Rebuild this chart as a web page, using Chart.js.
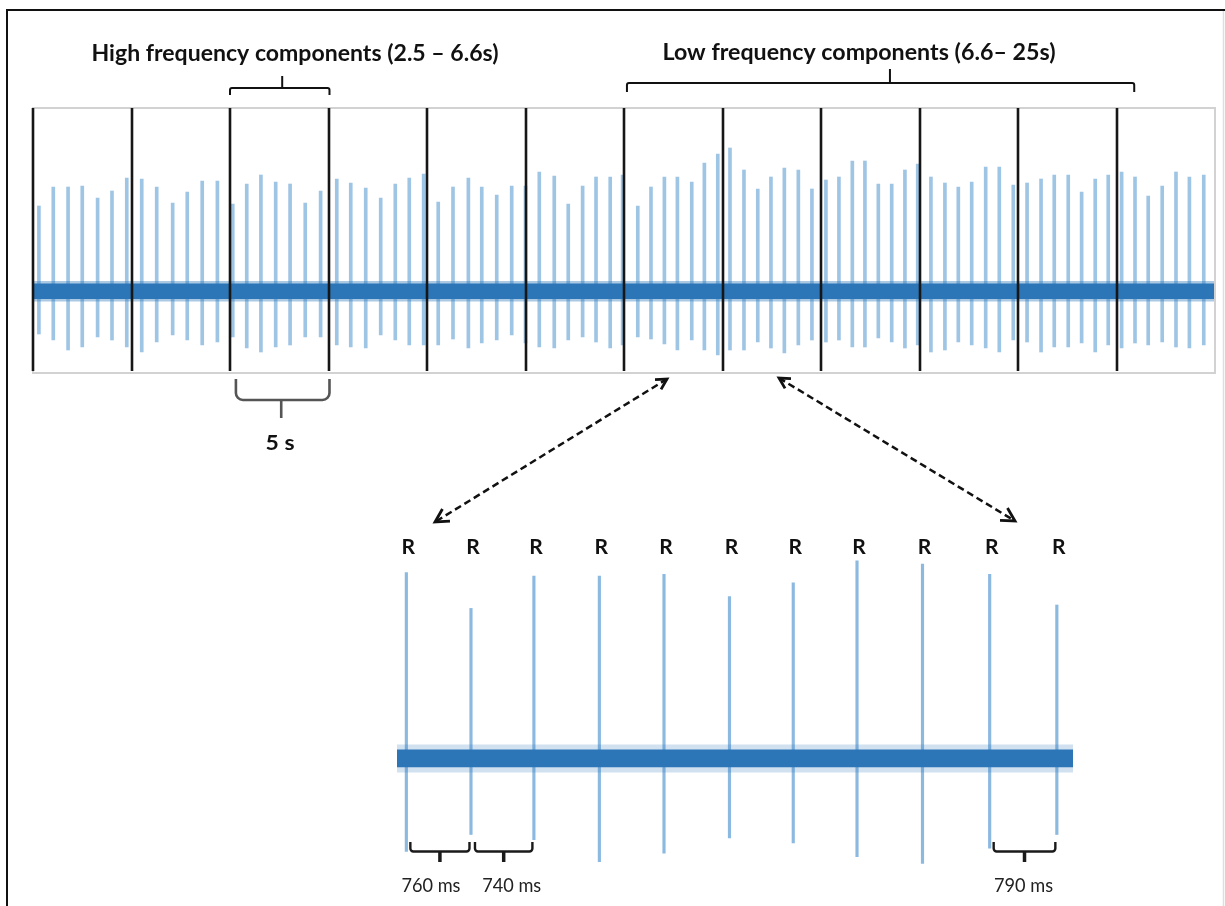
<!DOCTYPE html>
<html>
<head>
<meta charset="utf-8">
<script src="https://cdn.jsdelivr.net/npm/chart.js@4.4.1/dist/chart.umd.min.js"></script>
<style>
  html, body { margin: 0; padding: 0; background: #fff; }
  #wrap { position: relative; width: 1225px; height: 906px; overflow: hidden; background: #fff; }
  #wrap canvas { position: absolute; left: 0; top: 0; }
</style>
</head>
<body>
<div id="wrap">
  <canvas id="strip" width="1225" height="906"></canvas>
  <canvas id="zoom" width="1225" height="906"></canvas>
</div>
<script>
// ---- 60 s recording: R-peak times (s), R amplitudes and S amplitudes (mV) ----
const stripBeatTimes = [0.30,1.03,1.78,2.50,3.28,4.01,4.76,5.52,6.28,7.09,7.83,8.59,9.36,10.14,10.85,11.57,12.32,13.05,13.82,14.60,
  15.42,16.13,16.89,17.65,18.39,19.10,19.83,20.57,21.32,22.10,22.78,23.54,24.30,25.00,25.70,26.46,27.17,27.90,28.58,29.30,
  29.93,30.70,31.37,32.05,32.71,33.44,34.08,34.76,35.38,36.09,36.79,37.46,38.14,38.85,39.54,40.25,40.91,41.59,42.23,42.91,
  43.59,44.26,44.91,45.58,46.29,46.97,47.65,48.36,49.05,49.76,50.46,51.17,51.84,52.55,53.23,53.92,54.58,55.26,55.94,56.61,
  57.32,58.02,58.70,59.43];
const stripPeaks = [0.85,1.04,1.04,1.05,0.93,1.00,1.13,1.12,1.04,0.88,0.99,1.10,1.10,0.87,1.07,1.16,1.09,1.07,0.88,1.00,
  1.12,1.08,1.03,0.93,1.07,1.13,1.17,0.89,1.04,1.13,1.04,0.96,1.05,1.05,1.19,1.15,0.87,1.05,1.14,1.14,
  1.16,0.85,1.04,1.14,1.14,1.09,1.28,1.37,1.43,1.21,1.02,1.14,1.23,1.21,1.02,1.11,1.14,1.30,1.30,1.07,
  1.07,1.21,1.27,1.14,1.08,1.04,1.09,1.24,1.24,1.06,1.08,1.12,1.16,1.16,0.99,1.12,1.16,1.19,1.14,0.95,
  1.05,1.19,1.14,1.16];
const stripTroughs = [-0.43,-0.49,-0.59,-0.56,-0.46,-0.49,-0.56,-0.61,-0.51,-0.44,-0.49,-0.54,-0.51,-0.46,-0.57,-0.61,-0.56,-0.54,-0.46,-0.46,
  -0.54,-0.56,-0.57,-0.44,-0.49,-0.54,-0.54,-0.54,-0.48,-0.57,-0.52,-0.49,-0.44,-0.52,-0.56,-0.57,-0.49,-0.46,-0.51,-0.57,
  -0.54,-0.46,-0.48,-0.53,-0.59,-0.49,-0.59,-0.64,-0.59,-0.59,-0.51,-0.57,-0.62,-0.54,-0.49,-0.51,-0.49,-0.56,-0.56,-0.47,
  -0.51,-0.57,-0.54,-0.61,-0.59,-0.51,-0.54,-0.57,-0.61,-0.49,-0.51,-0.61,-0.56,-0.56,-0.52,-0.61,-0.54,-0.57,-0.52,-0.54,
  -0.51,-0.56,-0.57,-0.54];
// 5-second division marks
const segmentMarks = [0,5,10,15,20,25,30,35,40,45,50,55];
// baseline noise envelope (mV)
const stripBandTimes = [0, 60];
const stripBandCore = [0.075, -0.08];
const stripBandEdge = [0.10, -0.105];

// ---- enlarged excerpt: 11 beats ----
const zoomBeatTimes = [0.11,0.87,1.61,2.38,3.14,3.91,4.66,5.41,6.18,6.97,7.76];
const zoomPeaks = [1.09,0.88,1.07,1.07,1.08,0.95,1.03,1.16,1.14,1.08,0.90];
const zoomTroughs = [-0.55,-0.45,-0.48,-0.61,-0.56,-0.47,-0.50,-0.58,-0.62,-0.53,-0.45];
const zoomBandTimes = [0, 7.95];
const zoomBandCore = [0.05, -0.055];
const zoomBandEdge = [0.08, -0.085];
const rrStartBeats = [0, 1, 9];
const rrLabels = ['760 ms', '740 ms', '790 ms'];

// ---- helpers ----
const FONT = 'Lato, "Open Sans", sans-serif';
const spikes = (t, hi, lo) => t.map((x, i) => ({ x: x, y: [lo[i], hi[i]] }));
const flat = (t, v) => t.map(x => ({ x: x, y: v }));

function fitText(ctx, text, cx, baseline, targetW, font, color) {
  ctx.save();
  ctx.font = font;
  ctx.fillStyle = color || '#111';
  ctx.textAlign = 'center';
  ctx.textBaseline = 'alphabetic';
  const w = ctx.measureText(text).width;
  ctx.translate(cx, baseline);
  if (targetW) ctx.scale(targetW / w, 1);
  ctx.fillText(text, 0, 0);
  ctx.restore();
}

function bracket(ctx, o) {
  ctx.save();
  ctx.strokeStyle = o.color || '#111';
  ctx.lineWidth = o.width || 2;
  ctx.lineJoin = 'round';
  ctx.beginPath();
  ctx.moveTo(o.x1, o.yEnds);
  ctx.arcTo(o.x1, o.yLine, o.x1 + 20, o.yLine, o.r || 0.01);
  ctx.arcTo(o.x2, o.yLine, o.x2, o.yEnds, o.r || 0.01);
  ctx.lineTo(o.x2, o.yEnds);
  ctx.stroke();
  ctx.lineWidth = o.tipWidth || o.width || 2;
  ctx.beginPath();
  ctx.moveTo(o.xTip, o.yLine);
  ctx.lineTo(o.xTip, o.yTip);
  ctx.stroke();
  ctx.restore();
}

function arrowHead(ctx, fx, fy, tx, ty, len) {
  const a = Math.atan2(ty - fy, tx - fx);
  ctx.beginPath();
  ctx.moveTo(tx - len * Math.cos(a - 0.5), ty - len * Math.sin(a - 0.5));
  ctx.lineTo(tx, ty);
  ctx.lineTo(tx - len * Math.cos(a + 0.5), ty - len * Math.sin(a + 0.5));
  ctx.stroke();
}

function dashedArrow(ctx, x1, y1, x2, y2) {
  ctx.save();
  ctx.strokeStyle = '#111';
  ctx.lineWidth = 2.5;
  ctx.setLineDash([7, 4]);
  ctx.beginPath();
  ctx.moveTo(x1, y1);
  ctx.lineTo(x2, y2);
  ctx.stroke();
  ctx.setLineDash([]);
  ctx.lineWidth = 2.8;
  arrowHead(ctx, x1, y1, x2, y2, 15);
  arrowHead(ctx, x2, y2, x1, y1, 12);
  ctx.restore();
}

// ---- overview strip decorations ----
const stripDecor = {
  id: 'stripDecor',
  beforeDraw(chart) {
    const ctx = chart.ctx;
    ctx.save();
    // figure frame
    ctx.strokeStyle = '#111';
    ctx.lineWidth = 2;
    ctx.beginPath();
    ctx.moveTo(7, 906); ctx.lineTo(7, 10); ctx.lineTo(1225, 10);
    ctx.stroke();
    ctx.strokeStyle = '#dedede';
    ctx.lineWidth = 1.5;
    ctx.beginPath();
    ctx.moveTo(1223.5, 11); ctx.lineTo(1223.5, 906);
    ctx.stroke();
    ctx.restore();
  },
  afterDatasetsDraw(chart) {
    const ctx = chart.ctx, xs = chart.scales.x, a = chart.chartArea;
    ctx.save();
    ctx.strokeStyle = '#d2d2d2';
    ctx.lineWidth = 2;
    ctx.strokeRect(a.left, a.top, a.right - a.left, a.bottom - a.top);
    ctx.strokeStyle = '#161616';
    ctx.lineWidth = 2.6;
    segmentMarks.forEach(t => {
      const px = Math.round(xs.getPixelForValue(t));
      ctx.beginPath();
      ctx.moveTo(px, a.top);
      ctx.lineTo(px, a.bottom - 2);
      ctx.stroke();
    });
    ctx.restore();

    // band labels and their brackets
    fitText(ctx, 'High frequency components (2.5 \u2013 6.6s)', 295, 61, 407, 'bold 22px ' + FONT);
    fitText(ctx, 'Low frequency components (6.6\u2013 25s)', 859, 60, 393, 'bold 22px ' + FONT);
    bracket(ctx, { x1: xs.getPixelForValue(10), x2: xs.getPixelForValue(15.05), xTip: xs.getPixelForValue(12.65),
      yLine: 88, yEnds: 95, yTip: 76, r: 2, width: 2, tipWidth: 2 });
    bracket(ctx, { x1: xs.getPixelForValue(30.15), x2: xs.getPixelForValue(55.9), xTip: xs.getPixelForValue(43.5),
      yLine: 83, yEnds: 92, yTip: 69, r: 2, width: 2, tipWidth: 2 });

    // 5 s scale bracket under the strip
    bracket(ctx, { x1: xs.getPixelForValue(10.3), x2: xs.getPixelForValue(15.05), xTip: xs.getPixelForValue(12.6),
      yLine: 400, yEnds: 379, yTip: 418, r: 7, width: 2.6, tipWidth: 2.6, color: '#555' });
    fitText(ctx, '5 s', 280, 450, 29, 'bold 20px ' + FONT);

    // link to the enlarged excerpt
    dashedArrow(ctx, 667, 379, 435, 522);
    dashedArrow(ctx, 779, 378, 1015, 521);
  }
};

// ---- enlarged excerpt decorations ----
const zoomDecor = {
  id: 'zoomDecor',
  afterDatasetsDraw(chart) {
    const ctx = chart.ctx, xs = chart.scales.x;
    ctx.save();
    ctx.font = 'bold 21px ' + FONT;
    ctx.fillStyle = '#111';
    ctx.textAlign = 'center';
    ctx.textBaseline = 'alphabetic';
    zoomBeatTimes.forEach(t => ctx.fillText('R', xs.getPixelForValue(t) + 2, 554));
    ctx.restore();

    const labelShift = [-9, 8, -1];
    rrStartBeats.forEach((b, k) => {
      const x1 = xs.getPixelForValue(zoomBeatTimes[b]) + 4;
      const x2 = xs.getPixelForValue(zoomBeatTimes[b + 1]) - 1.5;
      const xm = (x1 + x2) / 2;
      bracket(ctx, { x1: x1, x2: x2, xTip: xm, yLine: 851.5, yEnds: 842, yTip: 862, r: 3,
        width: 2.4, tipWidth: 3.5, color: '#1a1a1a' });
      fitText(ctx, rrLabels[k], xm + labelShift[k], 892, 59, '19px ' + FONT, '#222');
    });
  }
};

const common = {
  responsive: false,
  animation: false,
  devicePixelRatio: 1,
  events: [],
  plugins: { legend: { display: false }, tooltip: { enabled: false } }
};

function bandSets(times, core, edge, alphaEdge) {
  const line = { type: 'line', borderColor: 'transparent', borderWidth: 0, pointRadius: 0, tension: 0 };
  return [
    Object.assign({}, line, { data: flat(times, edge[0]), fill: false, order: 1 }),
    Object.assign({}, line, { data: flat(times, edge[1]), fill: '-1', backgroundColor: 'rgba(45,119,184,' + alphaEdge + ')', order: 1 }),
    Object.assign({}, line, { data: flat(times, core[0]), fill: false, order: 0 }),
    Object.assign({}, line, { data: flat(times, core[1]), fill: '-1', backgroundColor: '#2c76b7', order: 0 })
  ];
}

new Chart(document.getElementById('strip'), {
  type: 'bar',
  data: {
    datasets: bandSets(stripBandTimes, stripBandCore, stripBandEdge, 0.4).concat([{
      type: 'bar',
      data: spikes(stripBeatTimes, stripPeaks, stripTroughs),
      backgroundColor: 'rgba(63,139,204,0.5)',
      borderWidth: 0,
      barThickness: 3,
      order: 2
    }])
  },
  options: Object.assign({}, common, {
    layout: { padding: { left: 33, right: 10, top: 108, bottom: 533 } },
    scales: {
      x: { type: 'linear', min: 0, max: 60, display: false, offset: false },
      y: { min: -0.82, max: 1.83, display: false }
    }
  }),
  plugins: [stripDecor]
});

new Chart(document.getElementById('zoom'), {
  type: 'bar',
  data: {
    datasets: bandSets(zoomBandTimes, zoomBandCore, zoomBandEdge, 0.22).concat([{
      type: 'bar',
      data: spikes(zoomBeatTimes, zoomPeaks, zoomTroughs),
      backgroundColor: 'rgba(63,139,204,0.6)',
      borderWidth: 0,
      barThickness: 2.5,
      order: 2
    }])
  },
  options: Object.assign({}, common, {
    layout: { padding: { left: 397, right: 152, top: 554, bottom: 29 } },
    scales: {
      x: { type: 'linear', min: 0, max: 7.95, display: false, offset: false },
      y: { min: -0.7, max: 1.2, display: false }
    }
  }),
  plugins: [zoomDecor]
});
</script>
</body>
</html>
